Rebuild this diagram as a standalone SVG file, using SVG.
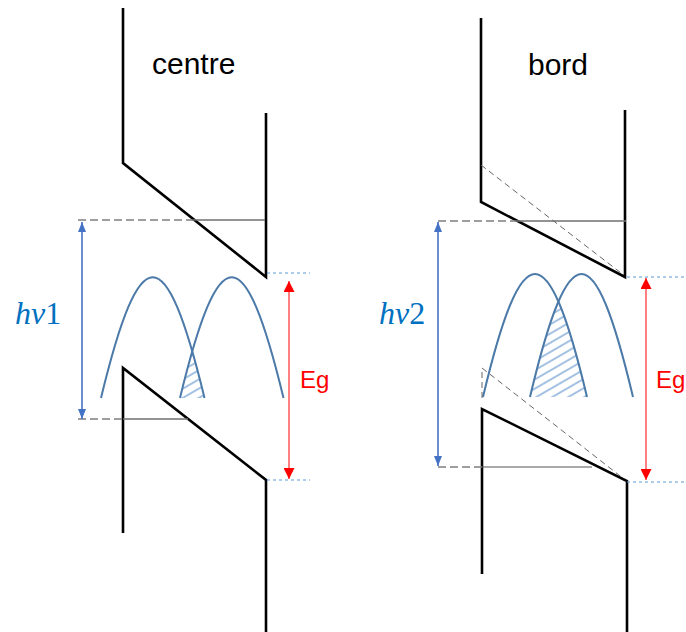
<svg xmlns="http://www.w3.org/2000/svg" width="686" height="632" viewBox="0 0 686 632">
<style>
.band{fill:none;stroke:#000;stroke-width:2.6;stroke-linejoin:miter}
.gdash{fill:none;stroke:#7f7f7f;stroke-width:1.5;stroke-dasharray:8,4}
.gsolid{fill:none;stroke:#6f6f6f;stroke-width:1.3}
.gthin{fill:none;stroke:#555;stroke-width:1}
.ddash{fill:none;stroke:#666;stroke-width:1;stroke-dasharray:6,4}
.bdash{fill:none;stroke:#5B9BD5;stroke-width:1;stroke-dasharray:3,3}
.curve{fill:none;stroke:#4B79A8;stroke-width:2}
.barrow{stroke:#4472C4;stroke-width:1.6;marker-start:url(#mb);marker-end:url(#mb)}
.rarrow{stroke:#FF0000;stroke-width:1;marker-start:url(#mr);marker-end:url(#mr)}
.lbl{font-family:"Liberation Sans",Arial,sans-serif;font-size:30px;fill:#000}
.hv{font-family:"Liberation Serif","Times New Roman",serif;font-size:32px;fill:#0070C0}
.eg{font-family:"Liberation Sans",Arial,sans-serif;font-size:24px;fill:#FF0000}
</style>
<defs>
<marker id="mb" viewBox="0 0 10 8" refX="10" refY="4" markerWidth="10" markerHeight="8" markerUnits="userSpaceOnUse" orient="auto-start-reverse"><path d="M0,0 L10,4 L0,8 Z" fill="#4472C4"/></marker>
<marker id="mr" viewBox="0 0 11 11" refX="11" refY="5.5" markerWidth="11" markerHeight="11" markerUnits="userSpaceOnUse" orient="auto-start-reverse"><path d="M0,0 L11,5.5 L0,11 Z" fill="#FF0000"/></marker>
<pattern id="hatch" width="8" height="8" patternUnits="userSpaceOnUse" patternTransform="rotate(-30)"><line x1="0" y1="4" x2="8" y2="4" stroke="#86ACD8" stroke-width="1.5"/></pattern>
<clipPath id="cl1"><path d="M101,398 C140,237 165.5,237 204.5,398 Z"/></clipPath>
<clipPath id="cl2"><path d="M483,397 C522,233 548,233 587,397 Z"/></clipPath>
</defs>
<rect width="686" height="632" fill="#fff"/>

<g id="left-diagram">
  <g id="left-cb"><path class="band" d="M123,8 L123,163 L266,277 L266,113"/></g>
  <g id="left-vb"><path class="band" d="M123,533 L123,368 L266,480 L266,632"/></g>
  <g id="left-dos">
    <path d="M180,398 C219,237 244.5,237 283.5,398 Z" fill="url(#hatch)" clip-path="url(#cl1)"/>
    <path class="curve" d="M101,398 C140,237 165.5,237 204.5,398"/>
    <path class="curve" d="M180,398 C219,237 244.5,237 283.5,398"/>
  </g>
  <g id="left-title"><text class="lbl" x="152" y="74">centre</text></g>
  <g id="left-hv"><text class="hv" x="15" y="324"><tspan font-style="italic">hv</tspan>1</text></g>
  <g id="left-eg"><text class="eg" x="300" y="388">Eg</text></g>
</g>

<g id="right-diagram">
  <g id="right-cb"><path class="band" d="M481,18 L481,202 L625,277 L625,110"/></g>
  <g id="right-vb"><path class="band" d="M482,574 L482,409 L627,481 L627,632"/></g>
  <g id="right-dos">
    <path d="M530,397 C569,233 594,233 633,397 Z" fill="url(#hatch)" clip-path="url(#cl2)"/>
    <path class="curve" d="M483,397 C522,233 548,233 587,397"/>
    <path class="curve" d="M530,397 C569,233 594,233 633,397"/>
  </g>
  <g id="right-title"><text class="lbl" x="528" y="75">bord</text></g>
  <g id="right-hv"><text class="hv" x="379" y="324"><tspan font-style="italic">hv</tspan>2</text></g>
  <g id="right-eg"><text class="eg" x="656" y="388">Eg</text></g>
</g>

<g id="connectors">
  <path class="gdash" d="M78,220 L192,220"/>
  <path class="gsolid" d="M192,220 L265,220"/>
  <path class="gdash" d="M78,419 L123,419"/>
  <path class="gsolid" d="M123,419 L188,419"/>
  <path class="bdash" d="M267,273 L310,273"/>
  <path class="bdash" d="M267,480 L310,480"/>
  <line class="barrow" x1="82" y1="222" x2="82" y2="419"/>
  <line class="rarrow" x1="289" y1="281" x2="289" y2="479"/>

  <path class="gdash" d="M438,221 L516,221"/>
  <path class="gsolid" d="M516,221 L626,221"/>
  <path class="gdash" d="M438,467 L482,467"/>
  <path class="gthin" d="M482,467 L592,467"/>
  <path class="ddash" d="M481,165 L621,273"/>
  <path class="ddash" d="M482,398 L482,368 L624,479"/>
  <path class="bdash" d="M627,277 L686,277"/>
  <path class="bdash" d="M627,482 L686,482"/>
  <line class="barrow" x1="438" y1="222" x2="438" y2="466"/>
  <line class="rarrow" x1="646" y1="278" x2="646" y2="480"/>
</g>
</svg>
